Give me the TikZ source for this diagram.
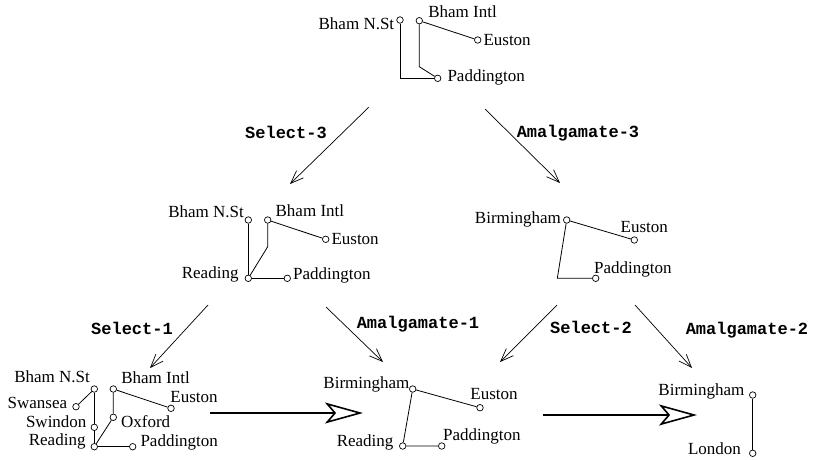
\documentclass[tikz,border=0pt]{standalone}
\usepackage{fontspec}
\setmainfont{Liberation Serif}
\setmonofont{Liberation Mono}
\usetikzlibrary{arrows.meta}

\tikzset{
  stn/.style={circle,draw,fill=white,line width=0.7pt,inner sep=0pt,minimum size=6.5pt},
  every label/.style={font=\fontsize{17}{20}\selectfont,inner sep=1pt},
  oplbl/.style={font=\fontsize{17}{20}\selectfont\ttfamily\bfseries,inner sep=0pt},
  link/.style={line width=0.8pt},
  flow/.style={line width=0.7pt,-{Straight Barb[length=13pt,width=10pt]}},
  bigflow/.style={line width=2pt,-{Stealth[open,length=38pt,width=21pt,inset=9pt,line width=1.6pt]}}
}

\begin{document}
\begin{tikzpicture}[x=1pt,y=-1pt,label distance=1pt]
    \useasboundingbox (0,0) rectangle (817,459);

    % top: original network
    \node[stn,label={[yshift=-4pt]left:Bham N.St}] (bn1) at (400,20) {};
    \node[stn,label={[xshift=4.5pt,yshift=-1.5pt]above right:Bham Intl}] (bi1) at (419.3,20.7) {};
    \node[stn,label=right:Euston] (eu1) at (477.7,40) {};
    \node[stn,label={[xshift=4pt,yshift=1pt]right:Paddington}] (pd1) at (437.7,78.3) {};
    \draw[link] (bn1) |- (pd1);
    \draw[link] (bi1) -- ++(0,46) -- (pd1);
    \draw[link] (bi1) -- (eu1);

    % middle left
    \node[stn,label={[yshift=-2pt]above left:Bham N.St}] (bn2) at (248.3,220) {};
    \node[stn,label={[xshift=3.5pt,yshift=-1.5pt]above right:Bham Intl}] (bi2) at (267.7,220) {};
    \node[stn,label=right:Euston] (eu2) at (325.7,239.3) {};
    \node[stn,label={[xshift=-4pt,yshift=4pt]left:Reading}] (rd2) at (248.3,278.3) {};
    \node[stn,label={[yshift=2.5pt]right:Paddington}] (pd2) at (287.3,278.3) {};
    \draw[link] (bn2) -- (rd2);
    \draw[link] (bi2) -- ++(0,26.7) -- (rd2);
    \draw[link] (rd2) -- (pd2);
    \draw[link] (bi2) -- (eu2);

    % middle right
    \node[stn,label={[yshift=1pt]left:Birmingham}] (bm3) at (566.7,220) {};
    \node[stn,label={[xshift=10pt,yshift=1.5pt]above:Euston}] (eu3) at (634.3,240) {};
    \node[stn,label={[xshift=-6pt,yshift=-3pt]above right:Paddington}] (pd3) at (595.7,278.3) {};
    \draw[link] (bm3) -- (eu3);
    \draw[link] (bm3) -- ++(-9.4,58.3) -- (pd3);

    % bottom left
    \node[stn,label={[yshift=1.5pt]above left:Bham N.St}] (bn4) at (94.3,389) {};
    \node[stn,label={[xshift=3.5pt,yshift=1pt]above right:Bham Intl}] (bi4) at (113.3,389) {};
    \node[stn,label={[xshift=-3pt,yshift=4pt]left:Swansea}] (sw4) at (76,406.7) {};
    \node[stn,label={[xshift=-2pt,yshift=6pt]left:Swindon}] (sd4) at (94.3,427.3) {};
    \node[stn,label={[xshift=-3pt,yshift=5pt]left:Reading}] (rd4) at (94.3,446.7) {};
    \node[stn,label={[xshift=2pt,yshift=-4pt]right:Oxford}] (ox4) at (113.3,417.3) {};
    \node[stn,label={[xshift=-5pt,yshift=1pt]above right:Euston}] (eu4) at (171,408.3) {};
    \node[stn,label={[xshift=2pt,yshift=4.5pt]right:Paddington}] (pd4) at (132.7,446.7) {};
    \draw[link] (sw4) -- (bn4);
    \draw[link] (bn4) -- (sd4) -- (rd4);
    \draw[link] (bi4) -- (ox4) -- (rd4);
    \draw[link] (rd4) -- (pd4);
    \draw[link] (bi4) -- (eu4);

    % bottom middle
    \node[stn,label={[xshift=2.5pt,yshift=4.5pt]left:Birmingham}] (bm5) at (412.7,389) {};
    \node[stn,label={[xshift=14pt,yshift=2.5pt]above:Euston}] (eu5) at (480,407.7) {};
    \node[stn,label={[xshift=-3.5pt,yshift=4pt]left:Reading}] (rd5) at (402.7,446) {};
    \node[stn,label={[xshift=-3pt,yshift=-2.7pt]above right:Paddington}] (pd5) at (441.7,446) {};
    \draw[link] (bm5) -- (eu5);
    \draw[link] (bm5) -- (rd5) -- (pd5);

    % bottom right
    \node[stn,label={[xshift=-2.5pt,yshift=4pt]left:Birmingham}] (bm6) at (752.7,395) {};
    \node[stn,label={[xshift=-6pt,yshift=4.7pt]left:London}] (ld6) at (752.7,453.3) {};
    \draw[link] (bm6) -- (ld6);

    % operations
    \coordinate (s3-from) at (369,107);  \coordinate (s3-to) at (290,184);
    \coordinate (a3-from) at (485,109);  \coordinate (a3-to) at (560,183);
    \coordinate (s1-from) at (208,305);  \coordinate (s1-to) at (150,368);
    \coordinate (a1-from) at (326,307);  \coordinate (a1-to) at (383,362);
    \coordinate (s2-from) at (557,305);  \coordinate (s2-to) at (500,362);
    \coordinate (a2-from) at (635,305);  \coordinate (a2-to) at (692,368);
    \foreach \f in {s3,a3,s1,a1,s2,a2} \draw[flow] (\f-from) -- (\f-to);

    \node[oplbl] (s3) at (286,132) {Select-3};
    \node[oplbl] (a3) at (578,133) {Amalgamate-3};
    \node[oplbl] (s1) at (132,328) {Select-1};
    \node[oplbl] (a1) at (418,324) {Amalgamate-1};
    \node[oplbl] (s2) at (591,327) {Select-2};
    \node[oplbl] (a2) at (747,330) {Amalgamate-2};

    % refinement steps
    \coordinate (r1-from) at (210,413);  \coordinate (r1-to) at (363,413);
    \coordinate (r2-from) at (543,415);  \coordinate (r2-to) at (697,415);
    \draw[bigflow] (r1-from) -- (r1-to);
    \draw[bigflow] (r2-from) -- (r2-to);
\end{tikzpicture}
\end{document}
